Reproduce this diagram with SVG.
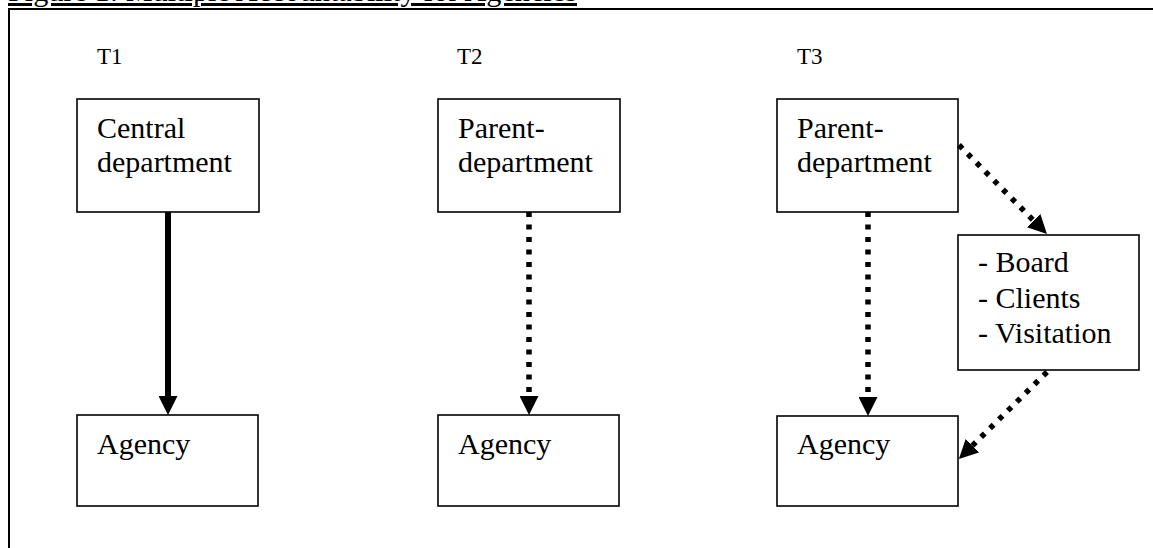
<svg xmlns="http://www.w3.org/2000/svg" width="1153" height="548" viewBox="0 0 1153 548">
<style>
  .box { fill: #fff; stroke: #000; stroke-width: 1.6; }
  .txt { font-family: "Liberation Serif", "Times New Roman", serif; font-size: 30px; fill: #000; }
  .lbl { font-family: "Liberation Serif", "Times New Roman", serif; font-size: 23px; fill: #000; }
  .solid { stroke: #000; stroke-width: 6; fill: none; }
  .dotted { stroke: #000; stroke-width: 5.5; fill: none; stroke-dasharray: 5 7.5; }
</style>
<defs>
  <marker id="ah" markerUnits="userSpaceOnUse" markerWidth="19" markerHeight="19" refX="0" refY="9.5" orient="auto">
    <path d="M0,0 L19,9.5 L0,19 Z" fill="#000"/>
  </marker>
</defs>
<rect width="1153" height="548" fill="#fff"/>
<text class="txt" x="8" y="1" text-decoration="underline" textLength="569" lengthAdjust="spacingAndGlyphs">Figure 1: Multiple Accountability for Agencies</text>
<rect x="9" y="9" width="1160" height="560" fill="none" stroke="#000" stroke-width="2"/>

<g id="t1"><text class="lbl" x="97" y="64">T1</text></g>
<g id="t2"><text class="lbl" x="457" y="64">T2</text></g>
<g id="t3"><text class="lbl" x="797" y="64">T3</text></g>

<g id="central">
  <rect class="box" x="77" y="99" width="182" height="113"/>
  <text class="txt" x="97" y="138">Central</text>
  <text class="txt" x="97" y="171.5">department</text>
</g>
<g id="agency1">
  <rect class="box" x="77" y="415" width="181" height="91"/>
  <text class="txt" x="97" y="454">Agency</text>
</g>
<g id="parent2">
  <rect class="box" x="438" y="99" width="182" height="113"/>
  <text class="txt" x="458" y="138">Parent-</text>
  <text class="txt" x="458" y="171.5">department</text>
</g>
<g id="agency2">
  <rect class="box" x="438" y="415" width="181" height="91"/>
  <text class="txt" x="458" y="454">Agency</text>
</g>
<g id="parent3">
  <rect class="box" x="777" y="99" width="181" height="113"/>
  <text class="txt" x="797" y="138">Parent-</text>
  <text class="txt" x="797" y="171.5">department</text>
</g>
<g id="agency3">
  <rect class="box" x="777" y="416" width="181" height="90"/>
  <text class="txt" x="797" y="454">Agency</text>
</g>
<g id="others">
  <rect class="box" x="958" y="235" width="181" height="135"/>
  <text class="txt" x="978" y="272">- Board</text>
  <text class="txt" x="978" y="307.5">- Clients</text>
  <text class="txt" x="978" y="343">- Visitation</text>
</g>

<g id="connectors">
  <line class="solid" x1="168" y1="212" x2="168" y2="396" marker-end="url(#ah)"/>
  <line class="dotted" x1="529" y1="212" x2="529" y2="396" marker-end="url(#ah)"/>
  <line class="dotted" x1="868" y1="212" x2="868" y2="397" marker-end="url(#ah)"/>
  <line class="dotted" x1="959" y1="145" x2="1033.6" y2="220.6" marker-end="url(#ah)"/>
  <line class="dotted" x1="1047" y1="372" x2="972.4" y2="445.6" marker-end="url(#ah)"/>
</g>
</svg>
